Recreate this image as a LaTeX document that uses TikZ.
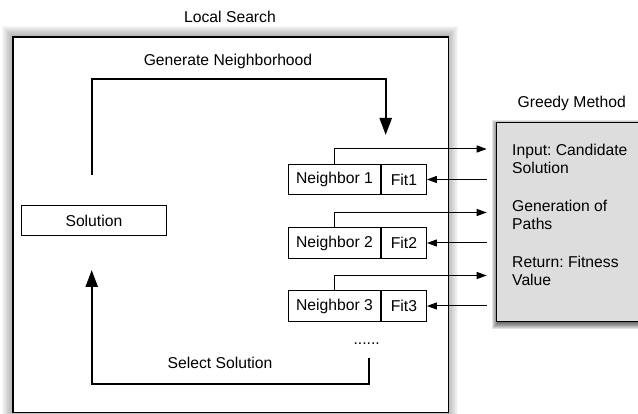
\documentclass[tikz,border=0pt]{standalone}
\usepackage{fontspec}
\setmainfont{Liberation Sans}
\usetikzlibrary{arrows.meta}
\definecolor{panelgray}{RGB}{221,221,221}
\frenchspacing
\begin{document}
\begin{tikzpicture}[x=1pt,y=-1pt,
  txt/.style={font=\fontsize{15.7}{18}\selectfont, inner sep=0pt},
  cell/.style={draw, line width=0.9pt, fill=white, minimum height=30.5pt,
    inner sep=0pt, font=\fontsize{15.7}{18}\selectfont},
  bigarrow/.style={line width=2.4pt, -{Triangle[length=17pt,width=12pt]}},
  smallarrow/.style={line width=1pt, -{Triangle[length=10pt,width=7pt]}},
]
\useasboundingbox (0,0) rectangle (638,414);

% soft shadow round the local search frame
\foreach \i in {1,...,10}
  \fill[black,opacity=0.03] (12.3-\i,36-\i) rectangle (447.7+\i,411.7+\i);
\node[draw, line width=1.6pt, fill=white, minimum width=435.4pt,
  minimum height=375.7pt, anchor=north west, inner sep=0pt] (frame) at (12.3,36) {};
\node[txt] (frametitle) at (230,17) {Local Search};

% greedy method panel with its drop shadow
\foreach \i in {1,...,7}
  \fill[black,opacity=0.11] (496+3-\i,121.7+5-\i) rectangle (660,320.7+1+\i);
\node[draw, line width=1.4pt, fill=panelgray, minimum width=164pt,
  minimum height=199pt, anchor=north west, inner sep=0pt] (greedy) at (496,121.7) {};
\node[txt] (greedytitle) at (571.7,103) {Greedy Method};
\node[txt, align=left, anchor=west] (ginput) at (512,159) {Input: Candidate\\Solution};
\node[txt, align=left, anchor=west] (gpaths) at (512,215) {Generation of\\Paths};
\node[txt, align=left, anchor=west] (greturn) at (512,271) {Return: Fitness\\Value};

% current solution
\node[cell, minimum width=145.7pt] (sol) at (93.9,220.4) {Solution};

% neighbours with their fitness cells
\foreach \k/\y in {1/179.5, 2/243, 3/306} {
  \node[cell, minimum width=92pt, anchor=east] (n\k) at (381,\y) {Neighbor \k};
  \node[cell, minimum width=45pt, anchor=west] (f\k) at (n\k.east) {Fit\k};
  \coordinate (out\k) at (486.7,\y-30.5);
  \coordinate (back\k) at (486.7,\y);
  \draw[smallarrow] (n\k.north) |- (out\k);
  \draw[smallarrow] (back\k) -- (f\k.east);
}
\node[txt, anchor=base] (more) at (366.7,345) {......};

% generate neighbourhood loop
\coordinate (genstart) at (91.7,175);
\coordinate (genend) at (385.7,135);
\draw[bigarrow] (genstart) |- (genend |- 0,79) -- (genend);
\node[txt] (genlabel) at (228,61) {Generate Neighborhood};

% select solution loop
\coordinate (selstart) at (368.7,358.3);
\coordinate (selend) at (91.7,270);
\draw[bigarrow] (selstart) |- (selend |- 0,384.3) -- (selend);
\node[txt] (sellabel) at (220,362.7) {Select Solution};
\end{tikzpicture}
\end{document}
